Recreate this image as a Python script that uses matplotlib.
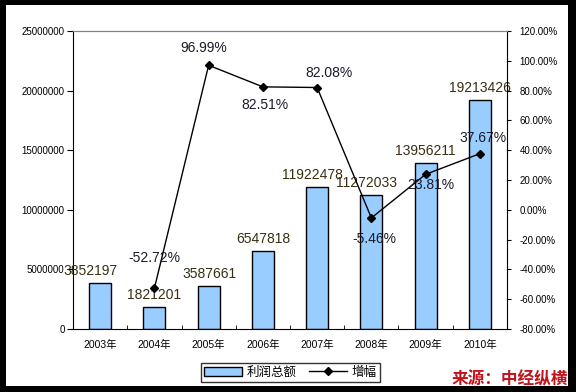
import matplotlib
matplotlib.use("Agg")
import matplotlib.pyplot as plt
from matplotlib.patches import Rectangle, Patch
from matplotlib.lines import Line2D
from matplotlib.ticker import FuncFormatter, MultipleLocator

years = ["2003年", "2004年", "2005年", "2006年", "2007年", "2008年", "2009年", "2010年"]
profit = [3852197, 1821201, 3587661, 6547818, 11922478, 11272033, 13956211, 19213426]
growth = [None, -52.72, 96.99, 82.51, 82.08, -5.46, 23.81, 37.67]

plt.rcParams['font.family'] = ['Liberation Sans', 'Noto Sans CJK SC', 'DejaVu Sans']

fig = plt.figure(figsize=(5.76, 3.92), dpi=100)
fig.patch.set_facecolor("black")
fig.patches.append(Rectangle((6 / 576, 1 - 386 / 392), 562 / 576, 381 / 392,
                             transform=fig.transFigure, facecolor="white",
                             edgecolor="none", zorder=-10))

ax1 = fig.add_axes([73 / 576, 1 - 329 / 392, 434 / 576, 298 / 392])
ax1.set_facecolor("white")
x = list(range(len(years)))
ax1.bar(x, profit, width=0.41, color="#99ccff", edgecolor="black", linewidth=1, zorder=2)
ax1.set_xlim(-0.5, 7.5)
ax1.set_ylim(0, 25000000)
ax1.yaxis.set_major_locator(MultipleLocator(5000000))
ax1.yaxis.set_major_formatter(FuncFormatter(lambda v, p: "%d" % v))
ax1.set_xticks(x)
ax1.set_xticklabels(years, fontsize=7.5)
ax1.set_xticks([i + 0.5 for i in range(-1, 8)], minor=True)
ax1.tick_params(axis="x", which="major", length=0, pad=8)
ax1.tick_params(axis="x", which="minor", length=3, direction="in")
ax1.tick_params(axis="y", labelsize=7, length=4, direction="out", pad=2)
ax1.spines["top"].set_color("#808080")
ax1.spines["right"].set_visible(False)

# bar value labels
bar_dx = [-10, 0, 1, 0, -5, -5, 0, 0]
for i, v in enumerate(profit):
    ax1.annotate(str(v), (i, v), xytext=(bar_dx[i], 5), textcoords="offset pixels",
                 ha="center", va="bottom", fontsize=10, color="#3a2e10", zorder=5)

ax2 = ax1.twinx()
gx = [i for i in x if growth[i] is not None]
gy = [growth[i] for i in gx]
ax2.plot(gx, gy, color="black", linewidth=1, marker="D", markersize=4.5, zorder=4)
ax2.set_ylim(-80, 120)
ax2.yaxis.set_major_locator(MultipleLocator(20))
ax2.yaxis.set_major_formatter(FuncFormatter(lambda v, p: "%.2f%%" % v))
ax2.tick_params(axis="y", labelsize=7, length=3, direction="out", pad=6)
for s in ["left", "bottom"]:
    ax2.spines[s].set_visible(False)
ax2.spines["top"].set_color("#808080")

# growth labels (pixel offsets of label centre from marker)
pct_off = [None, (0, 30), (-5, 17), (2, -18), (12, 15), (3, -21), (5, -11), (3, 16)]
for i in gx:
    ax2.annotate("%.2f%%" % growth[i], (i, growth[i]), xytext=pct_off[i],
                 textcoords="offset pixels", ha="center", va="center",
                 fontsize=10, color="#1a1a2a", zorder=6)

handles = [Patch(facecolor="#99ccff", edgecolor="black", linewidth=1),
           Line2D([], [], color="black", linewidth=1, marker="D", markersize=4)]
leg = fig.legend(handles, ["利润总额", "增幅"], loc="center",
                 bbox_to_anchor=(290.5 / 576, 1 - 372.5 / 392), ncol=2,
                 fontsize=9, frameon=True, fancybox=False, edgecolor="black",
                 borderpad=0.25, handlelength=3.0, handletextpad=0.4,
                 columnspacing=1.0, borderaxespad=0)
leg.get_frame().set_linewidth(1)

fig.text(568 / 576, 1 - 379 / 392, "来源：中经纵横", ha="right", va="center",
         fontsize=12, fontweight="bold", color="#c0141c",
         family=["Noto Sans CJK SC", "DejaVu Sans"])

fig.savefig("out.png", dpi=100, facecolor=fig.get_facecolor())
